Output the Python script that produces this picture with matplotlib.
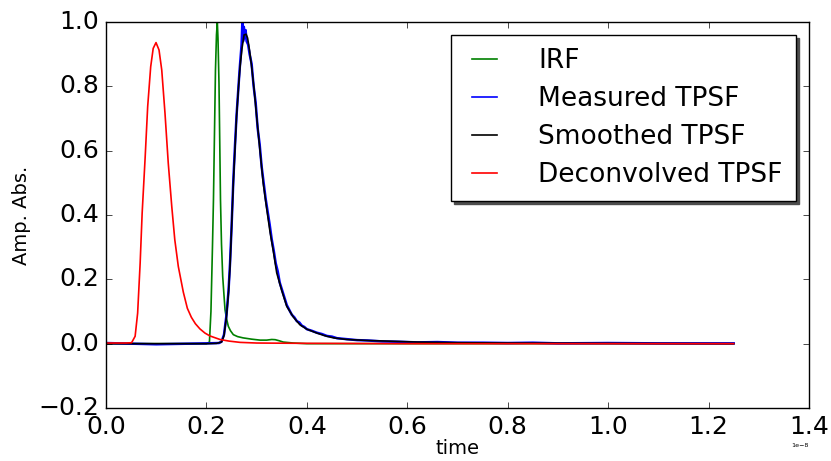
import matplotlib
matplotlib.use('Agg')
import matplotlib.pyplot as plt
import numpy as np

plt.style.use('classic')
plt.rcParams['figure.facecolor'] = 'white'
plt.rcParams['savefig.facecolor'] = 'white'
plt.rcParams['font.family'] = 'DejaVu Sans'


# ---------------------------------------------------------------------------------------------------------------------
# values, time in units of 1e-8 s
t_irf = [0.0, 0.2, 0.206, 0.209, 0.212, 0.214, 0.216, 0.218, 0.220, 0.2217, 0.223, 0.225, 0.2265, 0.228,
         0.230, 0.2324, 0.235, 0.237, 0.240, 0.2436, 0.248, 0.2536, 0.262, 0.273, 0.29, 0.307, 0.32, 0.33,
         0.337, 0.345, 0.353, 0.373, 0.4, 1.25]
irf = [0.0, 0.0, 0.005, 0.1, 0.3, 0.447, 0.65, 0.85, 0.96, 1.0, 0.95, 0.81, 0.63, 0.447,
       0.31, 0.209, 0.15, 0.106, 0.078, 0.054, 0.04, 0.028, 0.022, 0.018, 0.014, 0.011, 0.011, 0.013,
       0.0124, 0.009, 0.005, 0.002, 0.0, 0.0]

t_meas = [0, 0.1, 0.2, 0.225, 0.23, 0.235, 0.24, 0.244, 0.247, 0.25,
          0.2536, 0.257, 0.26, 0.263, 0.266, 0.268, 0.270, 0.2715, 0.273, 0.2745,
          0.276, 0.278, 0.28, 0.283, 0.286, 0.29, 0.294, 0.298, 0.302, 0.306,
          0.31, 0.314, 0.318, 0.322, 0.326, 0.33, 0.334, 0.338, 0.342, 0.346,
          0.35, 0.355, 0.36, 0.365, 0.37, 0.375, 0.38, 0.385, 0.39, 0.395,
          0.40, 0.41, 0.42, 0.43, 0.44, 0.45, 0.46, 0.48, 0.50, 0.52,
          0.55, 0.58, 0.62, 0.66, 0.70, 0.75, 0.80, 0.85, 0.90, 1.0,
          1.1, 1.25]
meas = [0.002, -0.002, 0.001, 0.002, 0.006, 0.028, 0.09, 0.165, 0.25, 0.36,
        0.51, 0.62, 0.71, 0.78, 0.85, 0.89, 0.93, 1.0, 0.94, 0.985,
        0.95, 0.975, 0.94, 0.93, 0.90, 0.87, 0.80, 0.75, 0.67, 0.62,
        0.55, 0.50, 0.45, 0.41, 0.37, 0.325, 0.29, 0.25, 0.225, 0.19,
        0.17, 0.145, 0.12, 0.105, 0.09, 0.082, 0.07, 0.066, 0.056, 0.052,
        0.045, 0.04, 0.034, 0.03, 0.024, 0.022, 0.017, 0.014, 0.011, 0.01,
        0.007, 0.006, 0.004, 0.005, 0.003, 0.003, 0.002, 0.003, 0.001, 0.002,
        0.001, 0.001]

t_smooth = [0.0, 0.2, 0.22, 0.23, 0.235, 0.24, 0.244, 0.247, 0.2536, 0.26, 0.264, 0.267, 0.271, 0.275,
            0.279, 0.282, 0.286, 0.29, 0.295, 0.30, 0.306, 0.313, 0.32, 0.327, 0.334, 0.34, 0.35, 0.36,
            0.373, 0.386, 0.40, 0.42, 0.435, 0.453, 0.48, 0.519, 0.56, 0.619, 0.7, 0.8, 1.0, 1.25]
smooth = [0.0, 0.0, 0.001, 0.005, 0.025, 0.085, 0.16, 0.24, 0.50, 0.706, 0.80, 0.861, 0.92, 0.96,
          0.962, 0.95, 0.91, 0.861, 0.79, 0.706, 0.61, 0.50, 0.42, 0.344, 0.28, 0.22, 0.165, 0.116,
          0.083, 0.059, 0.045, 0.033, 0.025, 0.018, 0.013, 0.01, 0.008, 0.005, 0.003, 0.002, 0.001, 0.0]

t_deconv = [0.0, 0.04, 0.051, 0.058, 0.063, 0.068, 0.072, 0.078, 0.083, 0.089, 0.094, 0.0996, 0.1056,
            0.111, 0.1175, 0.124, 0.131, 0.137, 0.144, 0.154, 0.162, 0.17, 0.178, 0.187, 0.197, 0.207,
            0.227, 0.245, 0.267, 0.3, 0.4, 0.6, 1.25]
deconv = [0.002, 0.002, 0.003, 0.023, 0.095, 0.25, 0.406, 0.58, 0.737, 0.861, 0.918, 0.936, 0.913,
          0.851, 0.716, 0.561, 0.426, 0.323, 0.24, 0.16, 0.11, 0.082, 0.062, 0.046, 0.033, 0.024,
          0.013, 0.008, 0.004, 0.002, 0.001, 0.0, 0.0]

labels = ['IRF', 'Measured TPSF', 'Smoothed TPSF', 'Deconvolved TPSF']
scale = 1e-8


# ---------------------------------------------------------------------------------------------------------------------
fig = plt.figure(figsize=(8.31, 4.61), dpi=100)
ax = fig.add_axes([106 / 831, 53 / 461, 703 / 831, 386 / 461])

ax.plot(np.array(t_irf) * scale, irf, color='g', lw=1.2, label=labels[0])
ax.plot(np.array(t_meas) * scale, meas, color='b', lw=1.8, label=labels[1])
ax.plot(np.array(t_smooth) * scale, smooth, color='k', lw=1.2, label=labels[2])
ax.plot(np.array(t_deconv) * scale, deconv, color='r', lw=1.2, label=labels[3])

ax.set_xlim(0, 1.4e-8)
ax.set_ylim(-0.2, 1.0)
ax.set_xticks(np.arange(0, 1.41, 0.2) * scale)
ax.set_yticks(np.arange(-0.2, 1.01, 0.2))
ax.tick_params(axis='both', which='major', direction='in', labelsize=18, length=4, pad=5)
ax.xaxis.get_offset_text().set_fontsize(4.6)

ax.set_xlabel('time', fontsize=14, labelpad=0)
ax.set_ylabel('Amp. Abs.', fontsize=14)

leg = ax.legend(loc='upper right', fontsize=19, shadow={'color': '0.3', 'alpha': 1}, fancybox=False,
                handlelength=1.55, handletextpad=1.25, labelspacing=0.45, borderpad=0.5)
for line in leg.get_lines():
    line.set_linewidth(1.2)

fig.savefig('out.png', dpi=100)
